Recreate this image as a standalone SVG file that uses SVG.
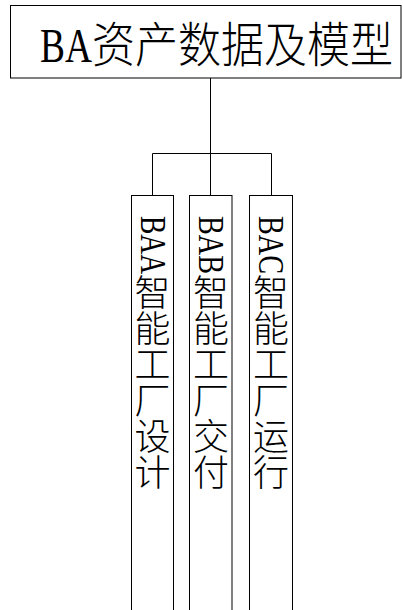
<svg xmlns="http://www.w3.org/2000/svg" width="403" height="610" viewBox="0 0 403 610">
<style>
.box{fill:#fff;stroke:#000;stroke-width:1}
.lat{font-family:"Liberation Serif","Noto Serif",serif}
.cjk{font-family:"Noto Sans CJK SC",sans-serif;font-weight:300}
.v{writing-mode:vertical-rl;font-size:36px;fill:#000}
.wire{fill:none;stroke:#000;stroke-width:1}
</style>
<g id="connectors">
<path class="wire" d="M210.5,78 V153.5 M152.5,153.5 H271.5 M152.5,153.5 V195 M210.5,153.5 V195 M271.5,153.5 V195"/>
</g>
<g id="root">
<rect class="box" x="10.5" y="5.5" width="390.5" height="72.5"/>
<text y="62" font-size="48" fill="#000"><tspan class="lat" x="40" textLength="52" lengthAdjust="spacingAndGlyphs">BA</tspan><tspan class="cjk" x="92" textLength="301" lengthAdjust="spacingAndGlyphs">资产数据及模型</tspan></text>
</g>
<g id="baa">
<rect class="box" x="131.5" y="195.5" width="42" height="420"/>
<text class="v" x="152.5" y="216"><tspan class="lat" textLength="58" lengthAdjust="spacingAndGlyphs">BAA</tspan><tspan class="cjk">智能工厂设计</tspan></text>
</g>
<g id="bab">
<rect class="box" x="189.5" y="195.5" width="42.5" height="420"/>
<text class="v" x="211" y="216"><tspan class="lat" textLength="58" lengthAdjust="spacingAndGlyphs">BAB</tspan><tspan class="cjk">智能工厂交付</tspan></text>
</g>
<g id="bac">
<rect class="box" x="249.5" y="195.5" width="43" height="420"/>
<text class="v" x="271" y="216"><tspan class="lat" textLength="58" lengthAdjust="spacingAndGlyphs">BAC</tspan><tspan class="cjk">智能工厂运行</tspan></text>
</g>
</svg>
